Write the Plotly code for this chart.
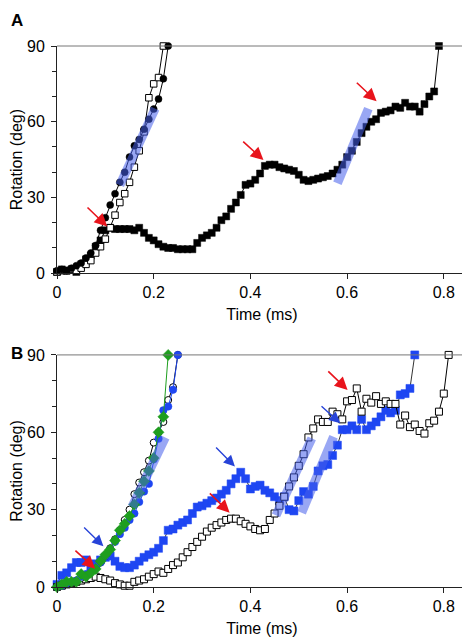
import plotly.graph_objects as go

# ---------------- Panel A data ----------------
A_sq_t = [0.00,0.01,0.02,0.03,0.04,0.05,0.06,0.07,0.08,0.09,
          0.10,0.11,0.12,0.13,0.14,0.15,0.16,0.17,0.18,0.19,
          0.20,0.21,0.22,0.23,0.24,0.25,0.26,0.27,0.28,0.29,
          0.30,0.31,0.32,0.33,0.34,0.35,0.36,0.37,0.38,0.39,
          0.40,0.41,0.42,0.43,0.44,0.45,0.46,0.47,0.48,0.49,
          0.50,0.51,0.52,0.53,0.54,0.55,0.56,0.57,0.58,0.59,
          0.60,0.61,0.62,0.63,0.64,0.65,0.66,0.67,0.68,0.69,
          0.70,0.71,0.72,0.73,0.74,0.75,0.76,0.77,0.78,0.79]
A_sq_y = [0.5,1.5,1,1.5,0.5,3.5,5.5,7,10.5,13,
          17,18,17.5,17.5,17.5,17.5,17,18,16,14,
          13,11.5,10.5,10,10,9.5,9.5,9.5,9.5,12,
          14,15,16,18,21,22.5,25.5,28,31,35,
          35.5,37,39.5,42.5,43,43,42,41.5,41,40.5,
          39,37,36.5,37,37.5,38,38.5,39.5,41,43,
          46,48.5,52,55.5,58,60,61,63.5,64,64.5,
          66,65.5,67.5,66,66,64,67,70,72,90]

A_circ_t = [0.00,0.01,0.02,0.03,0.04,0.05,0.06,0.07,0.08,0.09,
            0.10,0.11,0.12,0.13,0.14,0.15,0.16,0.17,0.18,0.19,
            0.20,0.21,0.22,0.23]
A_circ_y = [1,1.5,1,2,3,4,6,8,11,17,
            22,27,31.5,36,40,46,50.5,53,57,61,
            65,69,77,90]

A_open_t = [0.00,0.01,0.02,0.03,0.04,0.05,0.06,0.07,0.08,0.09,
            0.10,0.11,0.12,0.13,0.14,0.15,0.16,0.17,0.18,0.19,
            0.20,0.21,0.22]
A_open_y = [0.5,1,1,1.5,1,2,3.5,5,8,10.5,
            13.5,18,23,28,31.5,36,42,48.5,56,69.5,
            75,77.5,90]

A_fit1_t = [0.130, 0.203]
A_fit1_y = [34.9, 65.2]
A_fit2_t = [0.580, 0.644]
A_fit2_y = [35.6, 65.2]

# arrows: (head_t, head_y, tail_t, tail_y)
A_red_arrows = [(0.104, 18.5, 0.060, 26.6),
                (0.427, 44.8, 0.382, 52.7),
                (0.661, 68.1, 0.617, 76.0)]

# ---------------- Panel B data ----------------
B_bsq_t = [0.00,0.01,0.02,0.03,0.04,0.05,0.06,0.07,0.08,0.09,
           0.10,0.11,0.12,0.13,0.14,0.15,0.16,0.17,0.18,0.19,
           0.20,0.21,0.22,0.23,0.24,0.25,0.26,0.27,0.28,0.29,
           0.30,0.31,0.32,0.33,0.34,0.35,0.36,0.37,0.38,0.39,
           0.40,0.41,0.42,0.43,0.44,0.45,0.46,0.47,0.48,0.49,
           0.50,0.51,0.52,0.53,0.54,0.55,0.56,0.57,0.58,0.59,
           0.60,0.61,0.62,0.63,0.64,0.65,0.66,0.67,0.68,0.69,
           0.70,0.71,0.72,0.73,0.74]
B_bsq_y = [1,4.5,5.5,7.5,9.5,9.5,10.5,8,9,10.5,
           11.5,12,10,8,7.5,7.5,8.5,10,11.5,12.5,
           13.5,15,18,22,22.5,24,25,26,28.5,31,
           31.5,32.5,33.5,34.5,36,37.5,40,42,44.5,42,
           38,39,39.5,37.5,36.5,35,33.5,35,30,29.5,
           33.5,37,36,39,45,47,47.5,51,55,61,
           61,62.5,61,65,61,62.5,64,66,68.5,67.5,
           68.5,74.5,75,77,90]

B_osq_t = [0.00,0.01,0.02,0.03,0.04,0.05,0.06,0.07,0.08,0.09,
           0.10,0.11,0.12,0.13,0.14,0.15,0.16,0.17,0.18,0.19,
           0.20,0.21,0.22,0.23,0.24,0.25,0.26,0.27,0.28,0.29,
           0.30,0.31,0.32,0.33,0.34,0.35,0.36,0.37,0.38,0.39,
           0.40,0.41,0.42,0.43,0.44,0.45,0.46,0.47,0.48,0.49,
           0.50,0.51,0.52,0.53,0.54,0.55,0.56,0.57,0.58,0.59,
           0.60,0.61,0.62,0.63,0.64,0.65,0.66,0.67,0.68,0.69,
           0.70,0.71,0.72,0.73,0.74,0.75,0.76,0.77,0.78,0.79,
           0.80,0.81]
B_osq_y = [0,0.5,1,1.5,2,2.5,3,3.5,4,3.5,
           3,2.5,1.5,1,0.5,0.5,2,2.5,3,4,
           5,6,5.5,7,8.5,9.5,11.5,13.5,15.5,17.5,
           19.5,21.5,23,24,25,26,26.5,26.5,25.5,24.5,
           23.5,22.5,22,22.5,26,28.5,31.5,35,39,42.5,
           47,51.5,58,61.5,65,64,64,68,67,65,
           72,72.5,77,68,73,71.5,74,71,72,71,
           71,63,66.5,62,63,60.5,59.5,63.5,64.5,68,
           75,90]

B_ocirc_t = [0.00,0.01,0.02,0.03,0.04,0.05,0.06,0.07,0.08,0.09,
             0.10,0.11,0.12,0.13,0.14,0.15,0.16,0.17,0.18,0.19,
             0.20,0.21,0.22,0.23,0.24,0.25]
B_ocirc_y = [0,1,1.5,2,2.5,3.5,4.5,6,7.5,9.5,
             12,15,18.5,22,26,30,36,40.5,44.5,49,
             56,60,64,72.5,77.5,90]

B_bcirc_t = [0.00,0.01,0.02,0.03,0.04,0.05,0.06,0.07,0.08,0.09,
             0.10,0.11,0.12,0.13,0.14,0.15,0.16,0.17,0.18,0.19,
             0.20,0.21,0.22,0.23,0.24,0.25]
B_bcirc_y = [0,0.5,1.5,2,2.5,4,5,6.5,8,9.5,
             12,14.5,17.5,20.5,23,26,28.5,33,37,40,
             49.5,57.5,68.5,70,76.5,90]

B_green_t = [0.00,0.01,0.02,0.03,0.04,0.05,0.06,0.07,0.08,0.09,
             0.10,0.11,0.12,0.13,0.14,0.15,0.16,0.17,0.18,0.19,
             0.20,0.21,0.22,0.23]
B_green_y = [0,1,2,2,2,5,4,5.5,7,10,
             12.5,14.5,18,22,24.5,27.5,32,36.5,41,45,
             50,60,66,90]

B_fit1_t = [0.155, 0.224]
B_fit1_y = [31.0, 58.0]
B_fit2_t = [0.453, 0.527]
B_fit2_y = [27.8, 57.6]
B_fit3_t = [0.506, 0.572]
B_fit3_y = [28.8, 58.3]

B_red_arrows = [(0.079, 7.1, 0.035, 14.6),
                (0.357, 28.8, 0.313, 36.9),
                (0.601, 76.4, 0.558, 84.2)]
B_blue_arrows = [(0.096, 15.8, 0.053, 23.6),
                 (0.368, 46.7, 0.326, 54.7),
                 (0.586, 63.5, 0.544, 70.6)]

# transition-time arrows (start_t, end_t, y level above plot in data units)
TT_long = (0.0, 0.792, 99.4)
TT_short = (0.0, 0.227, 95.0)

# ---------------- styles ----------------
BLACK = "#000000"
BLUE = "#1e46f2"
GREEN = "#1e9e1e"
BAND = "rgba(70,95,235,0.55)"
RED = "#e8141c"
ARROW_BLUE = "#2743d8"
FONT = "Liberation Sans, Arial, sans-serif"
FS = 16

fig = go.Figure()

def series(x, y, xa, ya, symbol, size, fill, edge, linecolor, ew=1):
    fig.add_trace(go.Scatter(
        x=x, y=y, xaxis=xa, yaxis=ya, mode="lines+markers",
        line=dict(color=linecolor, width=1),
        marker=dict(symbol=symbol, size=size, color=fill,
                    line=dict(color=edge, width=ew)),
        cliponaxis=False, showlegend=False, hoverinfo="skip"))

def band(x, y, xa, ya):
    fig.add_trace(go.Scatter(
        x=x, y=y, xaxis=xa, yaxis=ya, mode="lines",
        line=dict(color=BAND, width=9),
        cliponaxis=False, showlegend=False, hoverinfo="skip"))

# Panel A
series(A_sq_t, A_sq_y, "x", "y", "square", 7, BLACK, BLACK, BLACK, 0.5)
series(A_open_t, A_open_y, "x", "y", "square", 6.5, "white", BLACK, BLACK)
series(A_circ_t, A_circ_y, "x", "y", "circle", 7, BLACK, BLACK, BLACK, 0.5)
band(A_fit1_t, A_fit1_y, "x", "y")
band(A_fit2_t, A_fit2_y, "x", "y")

# Panel B
series(B_bsq_t, B_bsq_y, "x2", "y2", "square", 8, BLUE, BLUE, "#333333", 0.5)
series(B_osq_t, B_osq_y, "x2", "y2", "square", 7, "white", BLACK, BLACK)
series(B_ocirc_t, B_ocirc_y, "x2", "y2", "circle", 7, "white", BLACK, BLACK)
series(B_bcirc_t, B_bcirc_y, "x2", "y2", "circle", 7.5, BLUE, BLUE, BLUE, 0.5)
series(B_green_t, B_green_y, "x2", "y2", "diamond", 8.5, GREEN, GREEN, GREEN, 0.5)
band(B_fit1_t, B_fit1_y, "x2", "y2")
band(B_fit2_t, B_fit2_y, "x2", "y2")
band(B_fit3_t, B_fit3_y, "x2", "y2")

annotations = []

def arrow(head_t, head_y, tail_t, tail_y, xr, yr, color, width=1.6, side="end", size=1.6):
    annotations.append(dict(
        x=head_t, y=head_y, ax=tail_t, ay=tail_y,
        xref=xr, yref=yr, axref=xr, ayref=yr,
        showarrow=True, arrowhead=2, arrowsize=size, arrowwidth=width,
        arrowcolor=color, arrowside=side, text=""))

for a in A_red_arrows:
    arrow(*a, "x", "y", RED)
for a in B_red_arrows:
    arrow(*a, "x2", "y2", RED)
for a in B_blue_arrows:
    arrow(*a, "x2", "y2", ARROW_BLUE, width=1.4)

for (t0, t1, yy) in (TT_long, TT_short):
    arrow(t1, yy, t0, yy, "x", "y", BLACK, width=1.5, side="end+start", size=1.4)

annotations.append(dict(x=0.387, y=104.9, xref="x", yref="y", text="Transition time",
                        showarrow=False, font=dict(size=FS, color="black", family=FONT),
                        xanchor="center", yanchor="middle"))
annotations.append(dict(x=-0.117, y=1.048, xref="paper", yref="paper", text="<b>A</b>",
                        showarrow=False, font=dict(size=17, color="black", family=FONT),
                        xanchor="left", yanchor="middle"))
annotations.append(dict(x=-0.117, y=0.4325, xref="paper", yref="paper", text="<b>B</b>",
                        showarrow=False, font=dict(size=17, color="black", family=FONT),
                        xanchor="left", yanchor="middle"))

xcommon = dict(range=[0, 0.848], tickvals=[0, 0.2, 0.4, 0.6, 0.8],
               ticktext=["0", "0.2", "0.4", "0.6", "0.8"], automargin=False,
               showline=True, linecolor="#222", linewidth=1, ticks="outside",
               ticklen=5, tickcolor="#222", showgrid=False, zeroline=False,
               tickfont=dict(size=FS, color="black", family=FONT),
               title=dict(text="Time (ms)", font=dict(size=FS, color="black", family=FONT),
                          standoff=8))
ycommon = dict(range=[0, 90], tickvals=[0, 30, 60, 90], automargin=False,
               showline=True, linecolor="#222", linewidth=1, ticks="outside",
               ticklen=5, tickcolor="#222", showgrid=False, zeroline=False,
               ticklabelstandoff=3,
               minor=dict(tickvals=[10, 20, 40, 50, 70, 80], ticks="outside",
                          ticklen=4, tickcolor="#222", showgrid=False),
               tickfont=dict(size=FS, color="black", family=FONT),
               title=dict(text="Rotation (deg)", font=dict(size=FS, color="black", family=FONT),
                          standoff=12))

shapes = []
for xr, yr in (("x domain", "y domain"), ("x2 domain", "y2 domain")):
    shapes.append(dict(type="line", xref=xr, yref=yr, x0=0, x1=1, y0=1, y1=1,
                       line=dict(color="#777", width=1)))
    shapes.append(dict(type="line", xref=xr, yref=yr, x0=1, x1=1, y0=0, y1=1,
                       line=dict(color="#777", width=1)))

# page body adds an 8px offset, so the figure is sized/margined to compensate
fig.update_layout(
    width=462, height=632,
    margin=dict(l=49, r=3, t=38, b=53, autoexpand=False),
    paper_bgcolor="white", plot_bgcolor="white",
    font=dict(family=FONT, color="black"),
    xaxis=dict(domain=[0, 1], anchor="y", **xcommon),
    yaxis=dict(domain=[0.580, 1.0], anchor="x", **ycommon),
    xaxis2=dict(domain=[0, 1], anchor="y2", **xcommon),
    yaxis2=dict(domain=[0, 0.429], anchor="x2", **ycommon),
    annotations=annotations, shapes=shapes,
    showlegend=False,
)

fig.write_html("out.html")
